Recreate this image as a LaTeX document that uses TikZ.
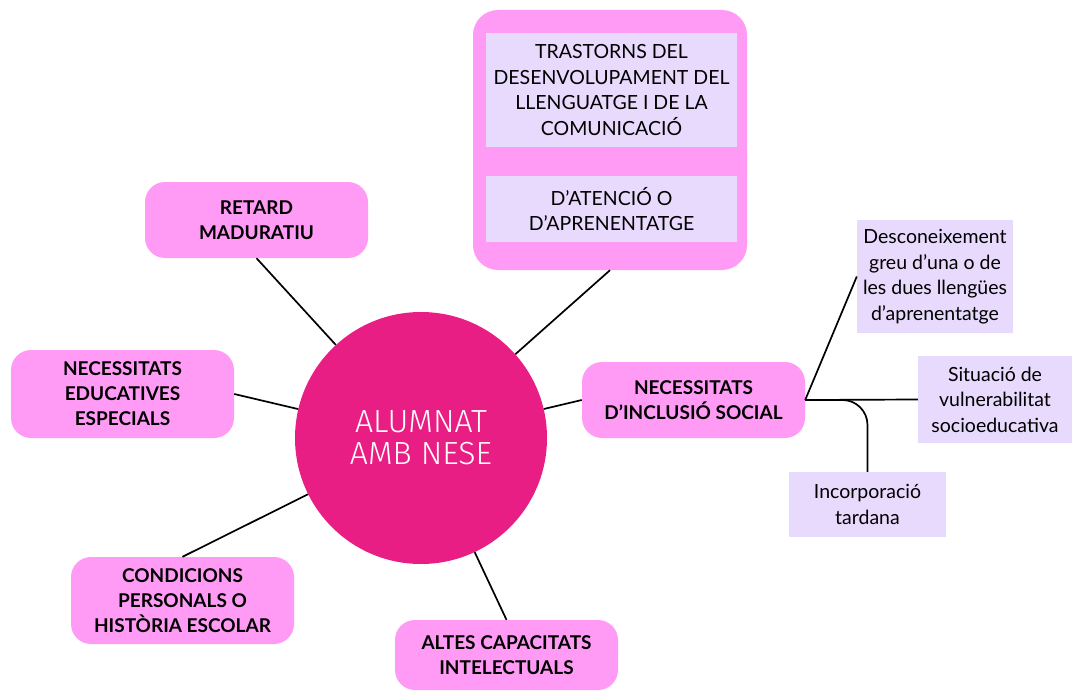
\documentclass[tikz,border=0pt]{standalone}
\usepackage{fontspec}
\setmainfont{Lato}
\newfontfamily\titlefont{Fira Sans}[UprightFont=* Light]
\usepackage{tikz}
\definecolor{nesepink}{RGB}{233,30,132}
\definecolor{boxpink}{RGB}{255,155,245}
\definecolor{boxlilac}{RGB}{232,218,252}

\begin{document}
\begin{tikzpicture}[
  x=1pt, y=-1pt,
  branch/.style={rectangle, rounded corners=20pt, fill=boxpink, minimum width=223pt, inner sep=0pt, align=center, font=\fontsize{19}{25}\selectfont\bfseries},
  leaf/.style={rectangle, fill=boxlilac, inner sep=0pt, align=center, font=\fontsize{19.5}{25.5}\selectfont},
  link/.style={line width=1.7pt, color=black}
]
\useasboundingbox (0,0) rectangle (1072,693);

% Central node
\node[circle, fill=nesepink, minimum size=252pt, inner sep=0pt, align=center, text=white, font=\titlefont\fontsize{32}{32}\selectfont] (c) at (421,438) {ALUMNAT\\AMB NESE};

% Branches round the centre
\node[branch, minimum height=76pt] (ret) at (256.5,220) {RETARD\\MADURATIU};
\node[branch, minimum height=88pt] (nee) at (122.5,394) {NECESSITATS\\EDUCATIVES\\ESPECIALS};
\node[branch, minimum height=87pt] (cond) at (182.5,600.5) {CONDICIONS\\PERSONALS O\\HISTÒRIA ESCOLAR};
\node[branch, minimum height=70pt] (altes) at (506.5,655) {ALTES CAPACITATS\\INTELECTUALS};
\node[branch, minimum height=76pt] (nis) at (693.5,400) {NECESSITATS\\D’INCLUSIÓ SOCIAL};

% Group of language and learning disorders
\node[rectangle, rounded corners=25pt, fill=boxpink, minimum width=274pt, minimum height=260pt] (grp) at (610,140) {};
\node[leaf, minimum width=251pt, minimum height=114pt] (tdl) at (611.5,90) {TRASTORNS DEL\\DESENVOLUPAMENT DEL\\LLENGUATGE I DE LA\\COMUNICACIÓ};
\node[leaf, minimum width=251pt, minimum height=66pt] (tda) at (611.5,209) {D’ATENCIÓ O\\D’APRENENTATGE};

% Social inclusion leaves
\node[leaf, minimum width=156pt, minimum height=113pt] (desc) at (935,276.5) {Desconeixement\\greu d’una o de\\les dues llengües\\d’aprenentatge};
\node[leaf, minimum width=154pt, minimum height=87pt] (sit) at (995,399.5) {Situació de\\vulnerabilitat\\socioeducativa};
\node[leaf, minimum width=157pt, minimum height=65pt] (inc) at (867.5,504.5) {Incorporació\\tardana};

% Connectors
\draw[link] (ret.south) -- (c);
\draw[link] (nee.east) -- (c);
\draw[link] (cond.north) -- (c);
\draw[link] (altes.north) -- (c);
\draw[link] (grp.south) -- (c);
\draw[link] (nis.west) -- (c);
\draw[link] (nis.east) -- (desc.west);
\draw[link] (nis.east) -- (sit.west);
\draw[link, rounded corners=25pt] (nis.east) -| (inc.north);

\end{tikzpicture}
\end{document}
